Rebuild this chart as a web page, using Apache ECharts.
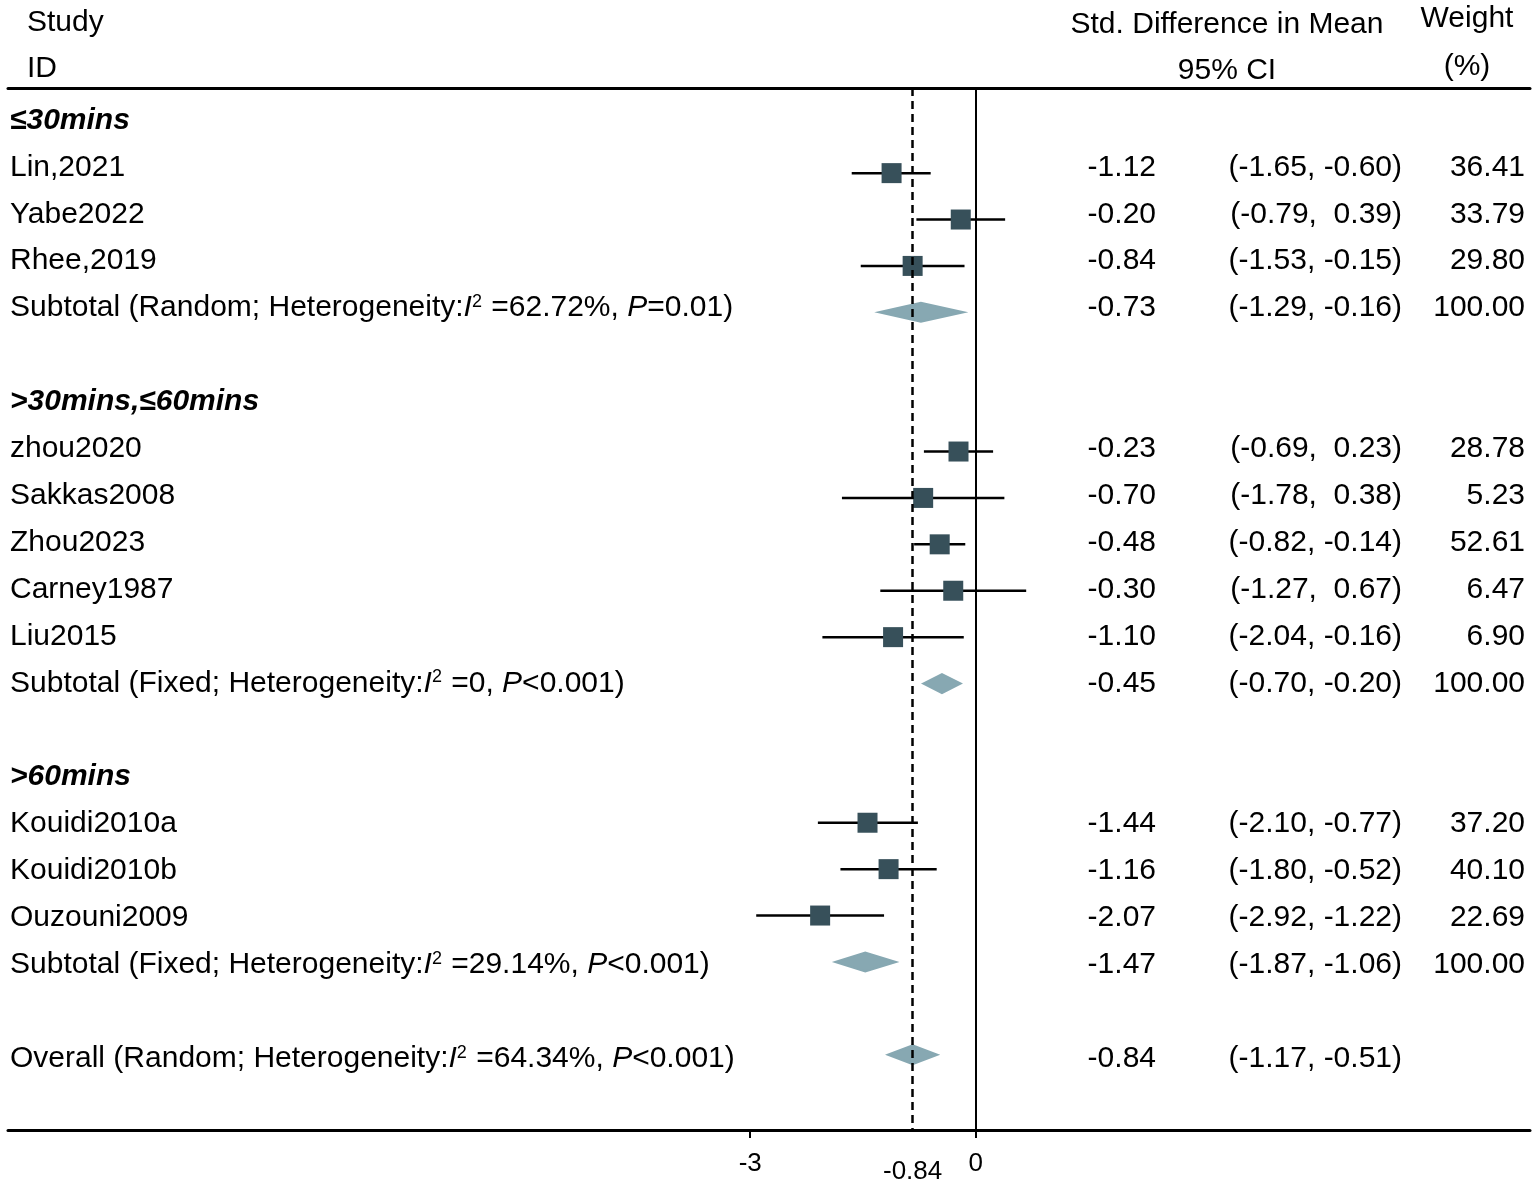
<!DOCTYPE html>
<html>
<head>
<meta charset="utf-8">
<title>Forest plot</title>
<script src="https://cdn.jsdelivr.net/npm/echarts@6/dist/echarts.min.js"></script>
<style>
html, body { margin: 0; padding: 0; background: #fff; }
#forest { width: 1536px; height: 1185px; }
</style>
</head>
<body>
<div id="forest"></div>
<script>
// subgroup headings and the row each one sits on
var groupNames = ['≤30mins', '>30mins,≤60mins', '>60mins'];
var groupRows = [0, 6, 14];

// individual studies
var studyNames = ['Lin,2021', 'Yabe2022', 'Rhee,2019', 'zhou2020', 'Sakkas2008', 'Zhou2023',
                  'Carney1987', 'Liu2015', 'Kouidi2010a', 'Kouidi2010b', 'Ouzouni2009'];
var studyRows = [1, 2, 3, 7, 8, 9, 10, 11, 15, 16, 17];
var studyEst = [-1.12, -0.20, -0.84, -0.23, -0.70, -0.48, -0.30, -1.10, -1.44, -1.16, -2.07];
var studyLow = [-1.65, -0.79, -1.53, -0.69, -1.78, -0.82, -1.27, -2.04, -2.10, -1.80, -2.92];
var studyHigh = [-0.60, 0.39, -0.15, 0.23, 0.38, -0.14, 0.67, -0.16, -0.77, -0.52, -1.22];
var studyWeight = [36.41, 33.79, 29.80, 28.78, 5.23, 52.61, 6.47, 6.90, 37.20, 40.10, 22.69];

// pooled estimates (subtotals + overall)
var poolNames = ['Subtotal', 'Subtotal', 'Subtotal', 'Overall'];
var poolModels = ['Random', 'Fixed', 'Fixed', 'Random'];
var poolI2 = ['62.72%', '0', '29.14%', '64.34%'];
var poolP = ['=0.01', '<0.001', '<0.001', '<0.001'];
var poolRows = [4, 12, 18, 20];
var poolEst = [-0.73, -0.45, -1.47, -0.84];
var poolLow = [-1.29, -0.70, -1.87, -1.17];
var poolHigh = [-0.16, -0.20, -1.06, -0.51];
var poolWeight = [100.00, 100.00, 100.00, null];

var overallEst = -0.84;
var tickValues = [-3, 0];
var tickLabels = [-3, -0.84, 0];

// layout (pixels)
var FONT = '"Liberation Sans", Arial, Helvetica, sans-serif';
var FS = 30;
var X_ZERO = 975.8, PX_PER_UNIT = 75.2;
var GRID_LEFT = 8, GRID_RIGHT = 6;
var GRID_TOP = 88, GRID_BOTTOM_Y = 1132;
var ROW0_Y = 126.8, ROW_PITCH = 46.49;
// text rows run on a slightly wider pitch than the marks
var TEXT_DY = -6.3, TEXT_DRIFT = 0.51;
var COL_NAME = 10, COL_EST = 1156, COL_CI = 1402, COL_W = 1525;
var SQUARE = 20, DIAMOND_H = 9.5;

var xMin = (GRID_LEFT - X_ZERO) / PX_PER_UNIT;
var xMax = (1536 - GRID_RIGHT - X_ZERO) / PX_PER_UNIT;
var yMin = (GRID_TOP - ROW0_Y) / ROW_PITCH;
var yMax = (GRID_BOTTOM_Y - ROW0_Y) / ROW_PITCH;

function fmt(v) { return v.toFixed(2); }
function ciText(lo, hi) {
    return '(' + fmt(lo) + ', ' + (hi >= 0 ? ' ' : '') + fmt(hi) + ')';
}

// build the text table from the arrays
var tableRows = [];
groupNames.forEach(function (g, i) {
    tableRows.push({ row: groupRows[i], label: '{g|' + g + '}', est: '', ci: '', w: '' });
});
studyNames.forEach(function (s, i) {
    tableRows.push({ row: studyRows[i], label: s, est: fmt(studyEst[i]),
        ci: ciText(studyLow[i], studyHigh[i]), w: fmt(studyWeight[i]) });
});
poolNames.forEach(function (p, i) {
    var lab = '{n|' + p + ' (' + poolModels[i] + '; Heterogeneity:}{i|I}{s|2}{n| =' + poolI2[i] +
        ', }{i|P}{n|' + poolP[i] + ')}';
    tableRows.push({ row: poolRows[i], label: lab, est: fmt(poolEst[i]),
        ci: ciText(poolLow[i], poolHigh[i]), w: poolWeight[i] == null ? '' : fmt(poolWeight[i]) });
});

function textEl(x, y, str, align) {
    return {
        type: 'text', x: x, y: y,
        style: {
            text: str, fill: '#000', fontSize: FS, fontFamily: FONT,
            align: align, verticalAlign: 'middle',
            textAlign: align, textVerticalAlign: 'middle',
            rich: {
                n: { fontSize: FS, fontFamily: FONT },
                i: { fontSize: FS, fontFamily: FONT, fontStyle: 'italic' },
                s: { fontSize: 18, fontFamily: FONT, verticalAlign: 'top', padding: [0, 1, 0, 0] },
                g: { fontSize: FS, fontFamily: FONT, fontStyle: 'italic', fontWeight: 'bold' }
            }
        }
    };
}

function renderTable(params, api) {
    var r = tableRows[params.dataIndex];
    var y = api.coord([0, r.row])[1] + TEXT_DY + r.row * TEXT_DRIFT;
    var kids = [textEl(COL_NAME, y, r.label, 'left')];
    if (r.est) kids.push(textEl(COL_EST, y, r.est, 'right'));
    if (r.ci) kids.push(textEl(COL_CI, y, r.ci, 'right'));
    if (r.w) kids.push(textEl(COL_W, y, r.w, 'right'));
    return { type: 'group', children: kids };
}

function renderStudy(params, api) {
    var row = api.value(2);
    var lo = api.coord([api.value(0), row]);
    var hi = api.coord([api.value(1), row]);
    var mid = api.coord([api.value(3), row]);
    return {
        type: 'group',
        children: [
            { type: 'line', shape: { x1: lo[0], y1: lo[1], x2: hi[0], y2: hi[1] },
              style: { stroke: '#000', lineWidth: 2.5 } },
            { type: 'rect', shape: { x: mid[0] - SQUARE / 2, y: mid[1] - SQUARE / 2, width: SQUARE, height: SQUARE },
              style: { fill: '#37505a' } }
        ]
    };
}

function renderDiamond(params, api) {
    var row = api.value(2);
    var lo = api.coord([api.value(0), row]);
    var hi = api.coord([api.value(1), row]);
    var mid = api.coord([api.value(3), row]);
    return {
        type: 'polygon',
        shape: { points: [[lo[0], lo[1]], [mid[0], mid[1] - DIAMOND_H], [hi[0], hi[1]], [mid[0], mid[1] + DIAMOND_H]] },
        style: { fill: '#87a8b2', stroke: '#87a8b2', lineWidth: 2, lineJoin: 'miter', miterLimit: 10 }
    };
}

var chart = echarts.init(document.getElementById('forest'));

var headText = function (x, y, str, align) {
    return {
        type: 'text', x: x, y: y,
        style: { text: str, fill: '#000', fontSize: FS, fontFamily: FONT,
                 align: align, verticalAlign: 'middle', textAlign: align, textVerticalAlign: 'middle' }
    };
};

chart.setOption({
    animation: false,
    backgroundColor: '#fff',
    grid: { left: GRID_LEFT, right: GRID_RIGHT, top: GRID_TOP, bottom: 1185 - GRID_BOTTOM_Y },
    xAxis: [{
        type: 'value', min: xMin, max: xMax, position: 'bottom',
        splitLine: { show: false },
        axisLine: { show: true, onZero: false, lineStyle: { color: '#000', width: 3 } },
        axisTick: { show: true, customValues: tickValues, length: 8, lineStyle: { color: '#000', width: 2 } },
        axisLabel: {
            show: true, customValues: tickLabels, margin: 21,
            color: '#000', fontSize: 26, fontFamily: FONT,
            formatter: function (v) { return v === overallEst ? '{d|' + v + '}' : String(v); },
            rich: { d: { fontSize: 26, fontFamily: FONT, color: '#000', padding: [8, 0, 0, 0] } }
        }
    }, {
        type: 'value', min: xMin, max: xMax, position: 'top',
        splitLine: { show: false },
        axisLine: { show: true, onZero: false, lineStyle: { color: '#000', width: 3 } },
        axisTick: { show: false },
        axisLabel: { show: false }
    }],
    yAxis: { type: 'value', inverse: true, min: yMin, max: yMax, show: false },
    graphic: [
        headText(27, 23, 'Study', 'left'),
        headText(27, 69, 'ID', 'left'),
        headText(1227, 25, 'Std. Difference in Mean', 'center'),
        headText(1227, 71, '95% CI', 'center'),
        headText(1467, 19, 'Weight', 'center'),
        headText(1467, 67, '(%)', 'center')
    ],
    series: [{
        type: 'scatter', data: [], z: 1,
        markLine: {
            silent: true, symbol: 'none', label: { show: false },
            data: [
                { xAxis: 0, lineStyle: { color: '#000', width: 2, type: 'solid' } },
                { xAxis: overallEst, lineStyle: { color: '#000', width: 2.5, type: [8, 5] } }
            ]
        }
    }, {
        type: 'custom', name: 'studies', z: 3,
        renderItem: renderStudy,
        encode: { x: [0, 1, 3], y: 2 },
        data: studyRows.map(function (r, i) { return [studyLow[i], studyHigh[i], r, studyEst[i]]; })
    }, {
        type: 'custom', name: 'pooled', z: 3,
        renderItem: renderDiamond,
        encode: { x: [0, 1, 3], y: 2 },
        data: poolRows.map(function (r, i) { return [poolLow[i], poolHigh[i], r, poolEst[i]]; })
    }, {
        type: 'custom', name: 'table', z: 4,
        renderItem: renderTable,
        encode: { x: 0, y: 1 },
        data: tableRows.map(function (r) { return [0, r.row]; })
    }]
});
</script>
</body>
</html>
